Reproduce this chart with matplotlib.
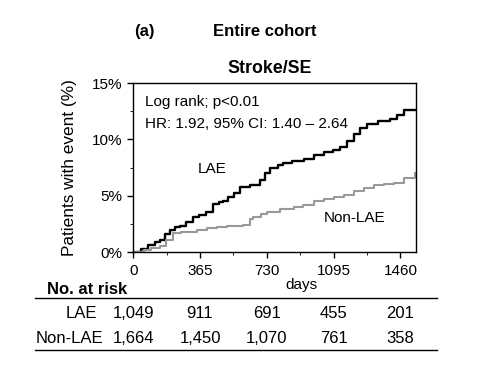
import matplotlib
matplotlib.use("Agg")
import matplotlib.pyplot as plt
from matplotlib.transforms import blended_transform_factory

plt.rcParams['font.family'] = ['Liberation Sans', 'DejaVu Sans']

# step curves (days, cumulative %)
lae_days = [0, 40, 80, 120, 146, 175, 200, 230, 255, 290, 328, 360, 400, 438, 470, 493, 520, 548, 584,
            639, 693, 720, 748, 790, 821, 870, 931, 990, 1040, 1090, 1131, 1170, 1205, 1240, 1277,
            1340, 1405, 1440, 1478, 1540]
lae_pct = [0, 0.3, 0.6, 0.9, 1.1, 1.6, 2.0, 2.2, 2.3, 2.7, 3.1, 3.3, 3.6, 4.3, 4.4, 4.5, 4.9, 5.2, 5.8,
           5.95, 6.4, 7.0, 7.5, 7.7, 7.9, 8.1, 8.3, 8.6, 8.9, 9.1, 9.3, 9.9, 10.5, 11.0, 11.4,
           11.6, 11.8, 12.2, 12.6, 12.6]
non_days = [0, 60, 100, 146, 180, 219, 260, 292, 350, 401, 460, 511, 560, 602, 640, 657, 700, 730,
            800, 876, 930, 986, 1040, 1095, 1150, 1205, 1260, 1314, 1370, 1423, 1480, 1540]
non_pct = [0, 0.2, 0.4, 0.5, 1.1, 1.7, 1.8, 1.8, 2.0, 2.1, 2.2, 2.3, 2.35, 2.4, 2.9, 3.15, 3.4, 3.6,
           3.8, 4.0, 4.2, 4.5, 4.7, 4.9, 5.1, 5.4, 5.7, 5.95, 6.0, 6.1, 6.6, 7.0]

tick_days = [0, 365, 730, 1095, 1460]
risk_groups = ['LAE', 'Non-LAE']
risk_lae = ['1,049', '911', '691', '455', '201']
risk_non = ['1,664', '1,450', '1,070', '761', '358']

fig = plt.figure(figsize=(4.97, 3.74), dpi=100)
ax = fig.add_axes([0.268, 0.326, 0.569, 0.452])

ax.step(lae_days, lae_pct, where='post', color='black', lw=1.7)
ax.step(non_days, non_pct, where='post', color='#999999', lw=1.5)

ax.set_xlim(0, 1545)
ax.set_ylim(0, 15)
ax.set_xticks(tick_days)
ax.set_xticks([182.5 + 365 * i for i in range(4)], minor=True)
ax.set_yticks([0, 5, 10, 15])
ax.set_yticklabels(['0%', '5%', '10%', '15%'])
ax.set_yticks([2.5, 7.5, 12.5], minor=True)
ax.tick_params(labelsize=11, length=4.5, width=1)
ax.tick_params(axis='x', pad=4)
ax.tick_params(axis='y', pad=3)
ax.tick_params(which='minor', length=2.5)
for s in ax.spines.values():
    s.set_linewidth(1)
ax.set_ylabel('Patients with event (%)', fontsize=12.4, labelpad=11)

ax.text(0.04, 0.93, 'Log rank; p<0.01', transform=ax.transAxes, fontsize=11, va='top')
ax.text(0.04, 0.80, 'HR: 1.92, 95% CI: 1.40 \u2013 2.64', transform=ax.transAxes, fontsize=11, va='top')
ax.text(355, 7.0, 'LAE', fontsize=11)
ax.text(1040, 2.7, 'Non-LAE', fontsize=11)

fig.text(0.29, 0.917, '(a)', fontsize=12, fontweight='bold', ha='center', va='center')
fig.text(0.533, 0.917, 'Entire cohort', fontsize=12, fontweight='bold', ha='center', va='center')
fig.text(0.543, 0.818, 'Stroke/SE', fontsize=12.8, fontweight='bold', ha='center', va='center')
fig.text(0.607, 0.238, 'days', fontsize=11, ha='center', va='center')

# number at risk table
fig.text(0.094, 0.227, 'No. at risk', fontsize=12, fontweight='bold', va='center')
fig.add_artist(plt.Line2D([0.07, 0.88], [0.203, 0.203], color='black', lw=1))
fig.add_artist(plt.Line2D([0.07, 0.88], [0.064, 0.064], color='black', lw=1))
tr = blended_transform_factory(ax.transData, fig.transFigure)
for row_y, name_x, name, vals in [(0.161, 0.196, risk_groups[0], risk_lae),
                                  (0.094, 0.208, risk_groups[1], risk_non)]:
    fig.text(name_x, row_y, name, fontsize=12, ha='right', va='center')
    for d, v in zip(tick_days, vals):
        ax.text(d, row_y, v, transform=tr, fontsize=12, ha='center', va='center', clip_on=False)

fig.savefig('out.png', dpi=100)
